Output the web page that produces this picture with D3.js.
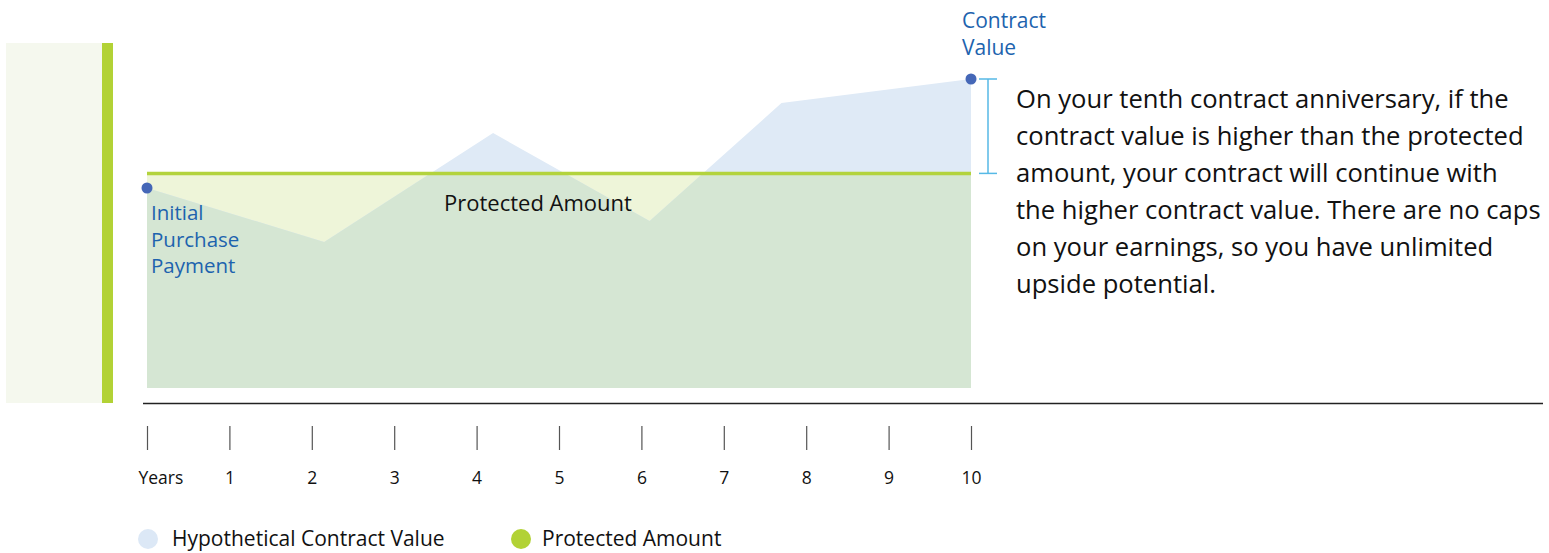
<!DOCTYPE html>
<html>
<head>
<meta charset="utf-8">
<script src="https://cdn.jsdelivr.net/npm/d3@7"></script>
<style>
  html, body { margin: 0; padding: 0; background: #ffffff; }
  svg { display: block; font-family: "Open Sans", Lato, sans-serif; }
</style>
</head>
<body>
<svg id="chart" width="1549" height="553"></svg>
<script>
// Hypothetical contract value path (years from purchase, value index)
const years = [0, 2.15, 4.2, 6.1, 7.7, 10];
const contractValue = [100, 73, 127.5, 83.5, 142.5, 154.5];
// Protected amount guaranteed over the ten-year period
const protectedAmount = 107.3;
// Axis ticks and their labels
const tickYears = [0, 1, 2, 3, 4, 5, 6, 7, 8, 9, 10];
const tickLabels = ["Years", "1", "2", "3", "4", "5", "6", "7", "8", "9", "10"];
// Legend entries
const legendLabels = ["Hypothetical Contract Value", "Protected Amount"];
const legendColors = ["#dce8f6", "#b2d235"];
// Explanatory copy to the right of the chart
const noteLines = [
  "On your tenth contract anniversary, if the",
  "contract value is higher than the protected",
  "amount, your contract will continue with",
  "the higher contract value. There are no caps",
  "on your earnings, so you have unlimited",
  "upside potential."
];

const svg = d3.select("#chart");

const x = d3.scaleLinear().domain([0, 10]).range([147, 971]);
const y = d3.scaleLinear().domain([0, 150]).range([388, 88]);

const points = years.map((yr, i) => ({ yr, v: contractValue[i] }));

// Decorative side panel
svg.append("rect").attr("x", 6).attr("y", 43).attr("width", 96).attr("height", 360).attr("fill", "#f5f8ee");
svg.append("rect").attr("x", 102).attr("y", 43).attr("width", 11).attr("height", 360).attr("fill", "#b2d235");

// Clip region below the protected amount
const defs = svg.append("defs");
defs.append("clipPath").attr("id", "belowProtected")
  .append("rect")
  .attr("x", x(0)).attr("y", y(protectedAmount))
  .attr("width", x(10) - x(0)).attr("height", y(0) - y(protectedAmount));

// Protected amount band
svg.append("rect")
  .attr("x", x(0)).attr("y", y(protectedAmount))
  .attr("width", x(10) - x(0)).attr("height", y(0) - y(protectedAmount))
  .attr("fill", "#eef5d9");

const area = d3.area()
  .x(d => x(d.yr))
  .y0(y(0))
  .y1(d => y(d.v));

// Contract value area
svg.append("path").datum(points).attr("d", area).attr("fill", "#dfeaf6");
// Overlap of contract value and protected band
svg.append("path").datum(points).attr("d", area).attr("fill", "#d5e6d3")
  .attr("clip-path", "url(#belowProtected)");

// Protected amount line
svg.append("line")
  .attr("x1", x(0)).attr("x2", x(10))
  .attr("y1", y(protectedAmount)).attr("y2", y(protectedAmount))
  .attr("stroke", "#b3d33d").attr("stroke-width", 3.5);

// Start and end markers
svg.selectAll("circle.marker")
  .data([points[0], points[points.length - 1]])
  .join("circle")
  .attr("class", "marker")
  .attr("cx", d => x(d.yr)).attr("cy", d => y(d.v))
  .attr("r", 5.5).attr("fill", "#4567b7");

// Bracket showing the gain above the protected amount
const last = points[points.length - 1];
const bx = x(10) + 17;
const bracket = svg.append("g").attr("stroke", "#56b9e6").attr("stroke-width", 1.5);
bracket.append("line").attr("x1", bx).attr("x2", bx).attr("y1", y(last.v)).attr("y2", y(protectedAmount));
bracket.append("line").attr("x1", bx - 9).attr("x2", bx + 9).attr("y1", y(last.v)).attr("y2", y(last.v));
bracket.append("line").attr("x1", bx - 9).attr("x2", bx + 9).attr("y1", y(protectedAmount)).attr("y2", y(protectedAmount));

// Baseline rule
svg.append("line")
  .attr("x1", 143).attr("x2", 1543).attr("y1", 403.5).attr("y2", 403.5)
  .attr("stroke", "#222").attr("stroke-width", 1.5);

// Year axis
const axis = d3.axisBottom(x)
  .tickValues(tickYears)
  .tickSize(24)
  .tickPadding(22)
  .tickFormat((d, i) => tickLabels[i]);
const gAxis = svg.append("g").attr("transform", "translate(0,426)").call(axis);
gAxis.select(".domain").remove();
gAxis.selectAll(".tick line").attr("stroke", "#555").attr("stroke-width", 1.2);
gAxis.selectAll(".tick text")
  .attr("fill", "#111").attr("font-size", 17.5).attr("font-family", "'Open Sans', sans-serif");
// The first label sits just right of its tick
gAxis.selectAll(".tick text").filter((d, i) => i === 0)
  .attr("text-anchor", "start").attr("dx", -9);

// Point annotations
const blue = "#1d63ae";
svg.append("text").attr("fill", blue).attr("font-size", 20.5)
  .selectAll("tspan").data(["Initial", "Purchase", "Payment"]).join("tspan")
  .attr("x", 151).attr("y", (d, i) => 220 + i * 26.5).text(d => d);
svg.append("text").attr("fill", blue).attr("font-size", 21)
  .selectAll("tspan").data(["Contract", "Value"]).join("tspan")
  .attr("x", 962).attr("y", (d, i) => 28 + i * 27).text(d => d);

// Band label
svg.append("text").attr("x", 444).attr("y", 211).attr("font-size", 22).attr("fill", "#111")
  .text("Protected Amount");

// Explanatory note
svg.append("text").attr("font-size", 25.6).attr("fill", "#111")
  .selectAll("tspan").data(noteLines).join("tspan")
  .attr("x", 1016).attr("y", (d, i) => 108 + i * 37).text(d => d);

// Legend
const legendX = [148, 521];
const lg = svg.append("g");
lg.selectAll("circle").data(legendLabels).join("circle")
  .attr("cx", (d, i) => legendX[i]).attr("cy", 539).attr("r", 10)
  .attr("fill", (d, i) => legendColors[i]);
lg.selectAll("text").data(legendLabels).join("text")
  .attr("x", (d, i) => legendX[i] + [24, 21][i]).attr("y", 546)
  .attr("font-size", 21).attr("fill", "#111").text(d => d);
</script>
</body>
</html>
